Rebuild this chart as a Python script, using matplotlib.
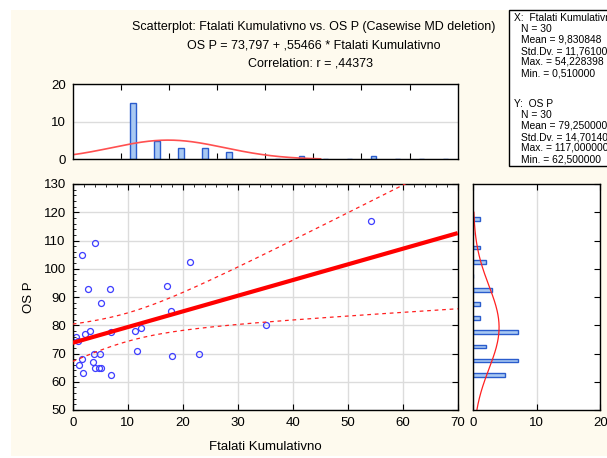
import numpy as np
import matplotlib.pyplot as plt
from matplotlib.patches import Rectangle

plt.rcParams['font.family'] = ['Liberation Sans', 'DejaVu Sans']

# Ftalati Kumulativno (x) and OS P (y), 30 cases
ftalati = [4.0, 1.75, 21.4, 2.8, 6.8, 17.2, 5.1, 17.9, 0.51, 2.3,
           3.1, 11.4, 12.5, 35.2, 3.8, 4.9, 22.9, 1.75, 11.7, 18.0,
           3.7, 1.2, 4.0, 4.8, 5.1, 1.9, 7.0, 54.228398, 1.0, 7.0]
os_p = [109, 105, 102.5, 93, 93, 94, 88, 85, 76, 77,
        78, 78, 79, 80, 70, 70, 70, 68, 71, 69,
        67, 66, 65, 65, 65, 63, 62.5, 117, 74.35, 77.68]

intercept = 73.797
slope = 0.55466
r_value = 0.44373
t_crit = 2.0484

x_stats = ['X:  Ftalati Kumulativno', 'N = 30', 'Mean = 9,830848', 'Std.Dv. = 11,761004',
           'Max. = 54,228398', 'Min. = 0,510000']
y_stats = ['Y:  OS P', 'N = 30', 'Mean = 79,250000', 'Std.Dv. = 14,701403',
           'Max. = 117,000000', 'Min. = 62,500000']

x = np.array(ftalati)
y = np.array(os_p)
n = len(x)

W, H = 607, 458
cream = '#fefaee'
blue_edge = '#2a5ccc'
blue_fill = '#a9c9f2'


def box(l, t, r, b):
    return [l / W, 1 - b / H, (r - l) / W, (b - t) / H]


fig = plt.figure(figsize=(W / 100, H / 100), dpi=100)
fig.patch.set_facecolor('white')
fig.patches.append(Rectangle((11 / W, 2 / H), 1, 1 - 12 / H, transform=fig.transFigure,
                             facecolor=cream, edgecolor='none', zorder=-10))

ax = fig.add_axes(box(72.7, 184, 457.7, 410))
ax_top = fig.add_axes(box(72.7, 84.3, 457.7, 159.3))
ax_right = fig.add_axes(box(473.3, 184, 600.3, 410))

# main scatterplot
ax.set_xlim(0, 70)
ax.set_ylim(50, 130)
ax.set_xticks(np.arange(0, 71, 10))
ax.set_yticks(np.arange(50, 131, 10))
ax.set_xticks(np.arange(0, 71, 2), minor=True)
ax.set_yticks(np.arange(50, 131, 2), minor=True)
ax.grid(True, color='#dcdcdc', lw=1)
ax.set_axisbelow(True)
ax.tick_params(which='both', direction='in', top=True, right=True, labelsize=9.5, pad=5)
ax.tick_params(which='major', length=4)
ax.tick_params(which='minor', length=2, bottom=False, right=False)

xx = np.linspace(0, 70, 200)
fit = intercept + slope * xx
resid = y - (intercept + slope * x)
s = np.sqrt(np.sum(resid ** 2) / (n - 2))
sxx = np.sum((x - x.mean()) ** 2)
half = t_crit * s * np.sqrt(1 / n + (xx - x.mean()) ** 2 / sxx)
ax.plot(x, y, 'o', mfc='none', mec='#3d3dff', ms=4.3, mew=0.9, zorder=2)
ax.plot(xx, fit + half, color='#ff2020', lw=0.9, ls=(0, (3, 3)), zorder=3)
ax.plot(xx, fit - half, color='#ff2020', lw=0.9, ls=(0, (3, 3)), zorder=3)
ax.plot(xx, fit, color='#ff0000', lw=3.0, solid_capstyle='butt', zorder=3)
ax.set_xlabel('Ftalati Kumulativno', fontsize=9.5, labelpad=9)
ax.set_ylabel('OS P', fontsize=9.5, labelpad=6)

# histogram of x above
xbins = np.arange(0, 75, 5)
xcounts, _ = np.histogram(x, bins=xbins)
xcent = xbins[:-1] + 2.5
ax_top.bar(xcent, xcounts, width=1.1, facecolor=blue_fill, edgecolor=blue_edge, lw=1)
ax_top.set_xlim(-10, 70)
ax_top.set_ylim(0, 20)
ax_top.set_yticks([0, 10, 20])
ax_top.set_xticks(np.arange(0, 61, 10))
ax_top.tick_params(direction='in', top=True, length=4, labelbottom=False, labelsize=9.5, pad=5)
ax_top.tick_params(axis='y', length=0)
ax_top.grid(True, axis='y', color='#dcdcdc', lw=1)
ax_top.set_axisbelow(True)
gx = np.linspace(-10, 41.5, 200)
gy = n * 5 * np.exp(-0.5 * ((gx - x.mean()) / x.std(ddof=1)) ** 2) / (x.std(ddof=1) * np.sqrt(2 * np.pi))
ax_top.plot(gx, gy, color='#ff5050', lw=1.2)

# histogram of y on the right
ybins = np.arange(60, 125, 5) + 1e-6
ycounts, _ = np.histogram(y, bins=ybins)
ycent = np.arange(62.5, 120, 5)
ax_right.barh(ycent, ycounts, height=1.3, facecolor=blue_fill, edgecolor=blue_edge, lw=1)
ax_right.set_ylim(50, 130)
ax_right.set_xlim(0, 20)
ax_right.set_xticks([0, 10, 20])
ax_right.set_yticks(np.arange(50, 131, 10))
ax_right.tick_params(direction='in', top=True, right=True, left=False, length=4,
                     labelleft=False, labelsize=9.5, pad=5)
ax_right.grid(True, axis='x', color='#dcdcdc', lw=1)
ax_right.set_axisbelow(True)
gyy = np.linspace(50, 120, 200)
gxx = n * 5 * np.exp(-0.5 * ((gyy - y.mean()) / y.std(ddof=1)) ** 2) / (y.std(ddof=1) * np.sqrt(2 * np.pi))
ax_right.plot(gxx, gyy, color='#ff2020', lw=0.9)

for a in (ax, ax_top, ax_right):
    for sp in a.spines.values():
        sp.set_linewidth(1.0)

# titles
fig.text(314 / W, 1 - 27 / H, 'Scatterplot: Ftalati Kumulativno vs. OS P (Casewise MD deletion)',
         ha='center', va='center', fontsize=9)
fig.text(314 / W, 1 - 46 / H, 'OS P = 73,797 + ,55466 * Ftalati Kumulativno',
         ha='center', va='center', fontsize=9)
fig.text(310 / W, 1 - 64 / H, 'Correlation: r = ,44373', ha='center', va='center', fontsize=9)

# descriptive statistics box
fig.patches.append(Rectangle((509 / W, 1 - 166 / H), 120 / W, 156 / H, transform=fig.transFigure,
                             facecolor='white', edgecolor='black', lw=1))
for i, line in enumerate(x_stats):
    fig.text((514 if i == 0 else 521) / W, 1 - (18 + 11 * i) / H, line, fontsize=7.4, va='center')
for i, line in enumerate(y_stats):
    fig.text((514 if i == 0 else 521) / W, 1 - (104 + 11 * i) / H, line, fontsize=7.4, va='center')

fig.savefig('out.png', dpi=100)
